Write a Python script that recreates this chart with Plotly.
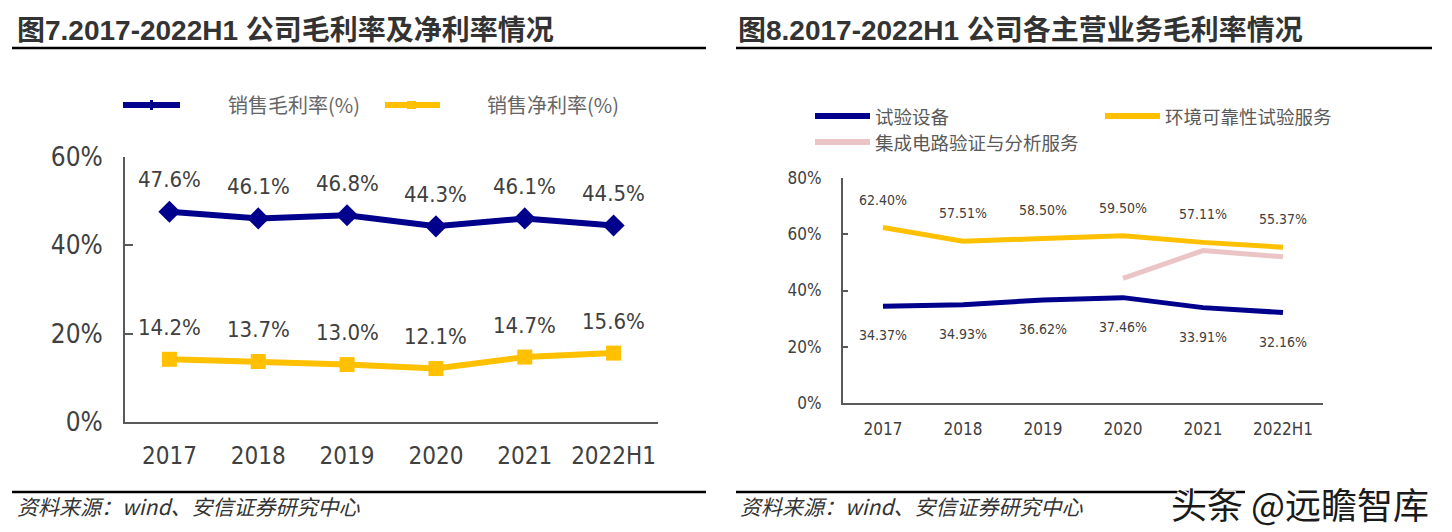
import plotly.graph_objects as go

# The page body has an 8px margin, so the figure is drawn 8px smaller and all
# page-pixel positions are mapped with that offset.
OFF = 8
W, H = 1452 - OFF, 532 - OFF

# ---------------- data ----------------
years = ["2017", "2018", "2019", "2020", "2021", "2022H1"]
gross_margin = [47.6, 46.1, 46.8, 44.3, 46.1, 44.5]
net_margin = [14.2, 13.7, 13.0, 12.1, 14.7, 15.6]

equip_margin = [34.37, 34.93, 36.62, 37.46, 33.91, 32.16]
env_test_margin = [62.40, 57.51, 58.50, 59.50, 57.11, 55.37]
ic_margin = [None, None, None, 44.3, 54.2, 52.0]

left_yticks = [0, 20, 40, 60]
right_yticks = [0, 20, 40, 60, 80]

title_left = "图7.2017-2022H1 公司毛利率及净利率情况"
title_right = "图8.2017-2022H1 公司各主营业务毛利率情况"
source_text = "资料来源：wind、安信证券研究中心"
legend_left = ["销售毛利率(%)", "销售净利率(%)"]
legend_right = ["试验设备", "环境可靠性试验服务", "集成电路验证与分析服务"]
watermark = "头条 @远瞻智库"

# ---------------- style ----------------
NAVY = "#00008C"
YELLOW = "#FFC000"
PINK = "#EBC5C5"
AXIS = "#595959"
TXT = "#404040"
NUMFONT = "DejaVu Sans Condensed, DejaVu Sans, Noto Sans CJK SC, sans-serif"
CJK = "Noto Sans CJK SC, sans-serif"
TITLEFONT = "Liberation Sans, Arial, Noto Sans CJK SC, sans-serif"

idx = list(range(len(years)))


def px(x):
    return (x - OFF) / W


def py(y):
    return 1 - (y - OFF) / H


fig = go.Figure()

# left chart
fig.add_trace(go.Scatter(x=idx, y=gross_margin, mode="lines+markers",
                         line=dict(color=NAVY, width=6),
                         marker=dict(symbol="diamond", size=17, color=NAVY),
                         xaxis="x", yaxis="y", showlegend=False))
fig.add_trace(go.Scatter(x=idx, y=net_margin, mode="lines+markers",
                         line=dict(color=YELLOW, width=6),
                         marker=dict(symbol="square", size=15, color=YELLOW),
                         xaxis="x", yaxis="y", showlegend=False))

# right chart
fig.add_trace(go.Scatter(x=idx, y=equip_margin, mode="lines",
                         line=dict(color=NAVY, width=5),
                         xaxis="x2", yaxis="y2", showlegend=False))
fig.add_trace(go.Scatter(x=idx, y=env_test_margin, mode="lines",
                         line=dict(color=YELLOW, width=5),
                         xaxis="x2", yaxis="y2", showlegend=False))
fig.add_trace(go.Scatter(x=idx, y=ic_margin, mode="lines",
                         line=dict(color=PINK, width=5),
                         xaxis="x2", yaxis="y2", showlegend=False))

annotations = []
# data labels left
for i, v in zip(idx, gross_margin):
    annotations.append(dict(x=i, y=v, xref="x", yref="y", text=f"{v:.1f}%",
                            showarrow=False, yshift=32,
                            font=dict(family=NUMFONT, size=22, color=TXT)))
for i, v in zip(idx, net_margin):
    annotations.append(dict(x=i, y=v, xref="x", yref="y", text=f"{v:.1f}%",
                            showarrow=False, yshift=32,
                            font=dict(family=NUMFONT, size=22, color=TXT)))
# data labels right
for i, v in zip(idx, env_test_margin):
    annotations.append(dict(x=i, y=v, xref="x2", yref="y2", text=f"{v:.2f}%",
                            showarrow=False, yshift=28,
                            font=dict(family=NUMFONT, size=14, color=TXT)))
for i, v in zip(idx, equip_margin):
    annotations.append(dict(x=i, y=v, xref="x2", yref="y2", text=f"{v:.2f}%",
                            showarrow=False, yshift=-29,
                            font=dict(family=NUMFONT, size=14, color=TXT)))

# titles
annotations.append(dict(x=px(15), y=py(31), xref="paper", yref="paper",
                        text=f"<b>{title_left}</b>", showarrow=False,
                        xanchor="left", yanchor="middle",
                        font=dict(family=TITLEFONT, size=28, color="#333333")))
annotations.append(dict(x=px(736), y=py(31), xref="paper", yref="paper",
                        text=f"<b>{title_right}</b>", showarrow=False,
                        xanchor="left", yanchor="middle",
                        font=dict(family=TITLEFONT, size=28, color="#333333")))
# sources
for x0 in (15, 738):
    annotations.append(dict(x=px(x0), y=py(506), xref="paper", yref="paper",
                            text=f"<i>{source_text}</i>", showarrow=False,
                            xanchor="left", yanchor="middle",
                            font=dict(family=CJK, size=21, color="#333333")))

# legends (text)
annotations.append(dict(x=px(226), y=py(105), xref="paper", yref="paper",
                        text=legend_left[0], showarrow=False, xanchor="left", yanchor="middle",
                        font=dict(family=CJK, size=20, color="#666666")))
annotations.append(dict(x=px(485), y=py(105), xref="paper", yref="paper",
                        text=legend_left[1], showarrow=False, xanchor="left", yanchor="middle",
                        font=dict(family=CJK, size=20, color="#666666")))
annotations.append(dict(x=px(873), y=py(116), xref="paper", yref="paper",
                        text=legend_right[0], showarrow=False, xanchor="left", yanchor="middle",
                        font=dict(family=CJK, size=18.5, color="#595959")))
annotations.append(dict(x=px(1163), y=py(116), xref="paper", yref="paper",
                        text=legend_right[1], showarrow=False, xanchor="left", yanchor="middle",
                        font=dict(family=CJK, size=18.5, color="#595959")))
annotations.append(dict(x=px(873), y=py(142), xref="paper", yref="paper",
                        text=legend_right[2], showarrow=False, xanchor="left", yanchor="middle",
                        font=dict(family=CJK, size=18.5, color="#595959")))

# watermark
annotations.append(dict(x=px(1300), y=py(503), xref="paper", yref="paper",
                        text=watermark, showarrow=False, xanchor="center", yanchor="middle",
                        font=dict(family=CJK, size=36, color="#1a1a1a",
                                  shadow="1px 1px 0px #ffffff, -1px -1px 0px #ffffff, 1px -1px 0px #ffffff, -1px 1px 0px #ffffff")))

shapes = []


def hline(x0, x1, y, color, width):
    shapes.append(dict(type="line", xref="paper", yref="paper",
                       x0=px(x0), x1=px(x1), y0=py(y), y1=py(y),
                       line=dict(color=color, width=width)))


# rules
hline(12, 706, 48, "black", 2.5)
hline(736, 1432, 48, "black", 2.5)
hline(12, 706, 492, "black", 2.5)
hline(736, 1245, 492, "black", 2.5)

# legend lines
hline(123, 180, 105, NAVY, 6)
hline(385, 440, 105, YELLOW, 6)
hline(815, 870, 116, NAVY, 6)
hline(1105, 1160, 116, YELLOW, 6)
hline(815, 870, 142, PINK, 6)
# tiny legend markers
shapes.append(dict(type="rect", xref="paper", yref="paper",
                   x0=px(150), x1=px(153), y0=py(110), y1=py(100),
                   fillcolor=NAVY, line=dict(width=0)))
shapes.append(dict(type="rect", xref="paper", yref="paper",
                   x0=px(407), x1=px(416), y0=py(109), y1=py(101),
                   fillcolor=YELLOW, line=dict(width=0)))

axis_common = dict(showline=True, linecolor=AXIS, linewidth=2, ticks="inside",
                   tickcolor=AXIS, tickwidth=2, showgrid=False, zeroline=False,
                   automargin=False)

fig.update_layout(
    width=W, height=H,
    margin=dict(l=0, r=0, t=0, b=0, pad=0),
    paper_bgcolor="white", plot_bgcolor="white",
    xaxis=dict(domain=[px(125), px(658)], anchor="y",
               range=[-0.5, 5.5], tickvals=idx, ticktext=years, ticks="",
               tickangle=0, ticklabelstandoff=11,
               tickfont=dict(family=NUMFONT, size=24, color=TXT),
               showline=True, linecolor=AXIS, linewidth=2, showgrid=False,
               zeroline=False, automargin=False),
    xaxis3=dict(domain=[px(125), px(658)], anchor="y", overlaying="x",
                range=[-0.5, 5.5], tickvals=[i + 0.5 for i in idx],
                ticktext=["" for _ in idx], ticklen=8, ticks="inside",
                tickcolor=AXIS, tickwidth=2, showgrid=False, zeroline=False,
                automargin=False, showline=False),
    yaxis=dict(domain=[py(422), py(157)], anchor="x", range=[0, 60],
               tickvals=left_yticks, ticktext=[f"{t}%" for t in left_yticks],
               ticklen=8, ticklabelstandoff=15,
               tickfont=dict(family=NUMFONT, size=26, color=TXT), **axis_common),
    xaxis2=dict(domain=[px(843), px(1323)], anchor="y2",
                range=[-0.5, 5.5], tickvals=idx, ticktext=years, ticks="",
                tickangle=0, ticklabelstandoff=10,
                tickfont=dict(family=NUMFONT, size=17, color=TXT),
                showline=True, linecolor=AXIS, linewidth=2, showgrid=False,
                zeroline=False, automargin=False),
    xaxis4=dict(domain=[px(843), px(1323)], anchor="y2", overlaying="x2",
                range=[-0.5, 5.5], tickvals=[i + 0.5 for i in idx],
                ticktext=["" for _ in idx], ticklen=5, ticks="inside",
                tickcolor=AXIS, tickwidth=2, showgrid=False, zeroline=False,
                automargin=False, showline=False),
    yaxis2=dict(domain=[py(403), py(178)], anchor="x2", range=[0, 80],
                tickvals=right_yticks, ticktext=[f"{t}%" for t in right_yticks],
                ticklen=5, ticklabelstandoff=16,
                tickfont=dict(family=NUMFONT, size=17, color=TXT), **axis_common),
    annotations=annotations,
    shapes=shapes,
)

fig.write_html("out.html")
